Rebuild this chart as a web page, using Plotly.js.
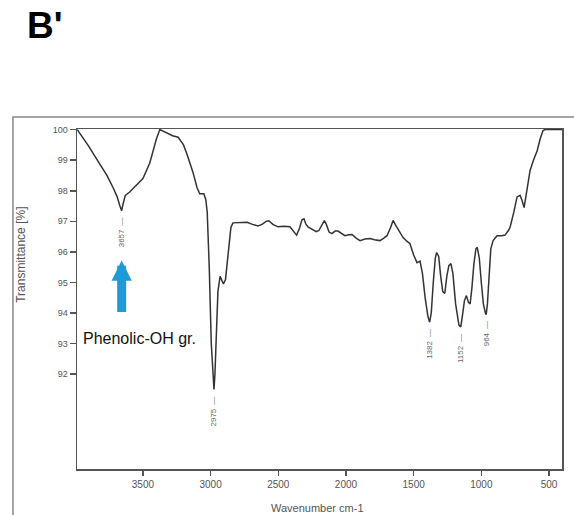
<!DOCTYPE html>
<html>
<head>
<meta charset="utf-8">
<script src="https://cdn.plot.ly/plotly-3.0.1.min.js"></script>
<style>html,body{margin:0;padding:0;background:#fff;}#chart{width:574px;height:515px;}</style>
</head>
<body>
<div id="chart"></div>
<script>
// Wavenumber (cm-1) and transmittance (%)
const wavenumber = [3985,3900,3830,3766,3720,3690,3670,3657,3645,3630,3600,3574,3540,3500,3450,3400,3375,3350,3320,3280,3240,3200,3175,3130,3100,3080,3050,3035,3025,3010,2995,2983,2975,2968,2958,2946,2930,2920,2905,2890,2870,2850,2835,2800,2760,2731,2690,2650,2620,2590,2570,2540,2502,2460,2414,2390,2365,2345,2325,2310,2295,2280,2250,2220,2200,2180,2160,2145,2125,2104,2080,2059,2035,2008,1980,1955,1925,1896,1860,1822,1790,1749,1720,1697,1670,1652,1630,1600,1578,1550,1527,1500,1475,1453,1435,1415,1395,1382,1370,1355,1340,1330,1315,1300,1285,1270,1255,1240,1225,1210,1190,1165,1152,1140,1125,1110,1095,1083,1070,1055,1040,1030,1015,1000,985,970,964,955,945,930,913,884,850,825,800,788,760,736,714,700,684,670,655,640,615,588,565,544,530,404];
const transmittance = [100.0,99.45,98.95,98.5,98.1,97.8,97.5,97.35,97.6,97.85,97.95,98.07,98.2,98.4,98.9,99.7,100.0,99.95,99.9,99.8,99.75,99.5,99.2,98.6,98.1,97.9,97.9,97.7,97.3,95.5,93.0,91.8,91.5,92.0,93.5,94.7,95.2,95.1,94.95,95.1,96.0,96.8,96.95,96.95,96.95,96.97,96.9,96.85,96.9,97.0,97.02,96.9,96.82,96.84,96.82,96.7,96.55,96.75,97.05,97.08,96.9,96.82,96.75,96.66,96.7,96.85,97.02,96.9,96.65,96.6,96.68,96.68,96.6,96.53,96.56,96.57,96.45,96.37,96.42,96.44,96.4,96.37,96.45,96.53,96.8,97.03,96.85,96.62,96.47,96.35,96.27,95.9,95.65,95.7,95.3,94.5,93.9,93.7,94.0,95.0,95.8,95.98,95.85,95.2,94.7,94.64,95.2,95.55,95.62,95.3,94.3,93.6,93.55,93.9,94.4,94.57,94.35,94.3,94.8,95.6,96.1,96.15,95.8,95.0,94.3,94.0,93.95,94.3,95.2,96.1,96.37,96.53,96.53,96.55,96.7,96.8,97.3,97.8,97.85,97.7,97.45,97.8,98.3,98.66,99.0,99.3,99.7,99.97,100.0,100.0];

// Labelled band positions
const peakWavenumbers = [3657, 2975, 1382, 1152, 964];
const peakTransmittance = [97.35, 91.5, 93.7, 93.55, 93.95];

const xTicks = [3500, 3000, 2500, 2000, 1500, 1000, 500];
const yTicks = [92, 93, 94, 95, 96, 97, 98, 99, 100];

const FONT = 'Arial, "Liberation Sans", sans-serif';

const trace = {
  x: wavenumber, y: transmittance, type: 'scatter', mode: 'lines',
  line: {color: '#333', width: 1.5}, hoverinfo: 'skip'
};

const annotations = peakWavenumbers.map((w, i) => ({
  x: w, y: peakTransmittance[i], xref: 'x', yref: 'y',
  text: String(w) + '\u2002\u2014', showarrow: false, textangle: -90,
  xanchor: 'center', yanchor: 'top', yshift: -5,
  font: {family: FONT, size: 8, color: '#666'}
}));

// Blue arrow pointing at the phenolic band
annotations.push({
  x: 3657, y: 95.72, xref: 'x', yref: 'y', text: '',
  showarrow: true, arrowhead: 2, arrowsize: 0.45, arrowwidth: 9,
  arrowcolor: '#1e9ad8', ax: 0, ay: 53, standoff: 0
});
annotations.push({
  x: 0.008, y: 0.385, xref: 'paper', yref: 'paper', text: 'Phenolic-OH gr.',
  showarrow: false, xanchor: 'left', yanchor: 'middle',
  font: {family: FONT, size: 16, color: '#111'}
});
annotations.push({
  x: -0.1155, y: 0.63, xref: 'paper', yref: 'paper', text: 'Transmittance [%]',
  showarrow: false, textangle: -90, xanchor: 'center', yanchor: 'middle',
  font: {family: FONT, size: 12, color: '#555'}
});
annotations.push({
  x: 0.495, y: -0.115, xref: 'paper', yref: 'paper', text: 'Wavenumber cm-1',
  showarrow: false, xanchor: 'center', yanchor: 'middle',
  font: {family: FONT, size: 11, color: '#555'}
});
annotations.push({
  x: -0.107, y: 1.37, xref: 'paper', yref: 'paper', text: "<b>B'</b>",
  showarrow: false, xanchor: 'left', yanchor: 'top',
  font: {family: FONT, size: 37, color: '#000'}
});

const layout = {
  width: 574, height: 515,
  margin: {l: 77, r: 12, t: 129, b: 46, pad: 0},
  paper_bgcolor: '#fff', plot_bgcolor: '#fff',
  showlegend: false,
  xaxis: {
    range: [3987, 404], tickvals: xTicks, ticktext: xTicks.map(String),
    ticks: 'outside', ticklen: 5, tickwidth: 1.5, tickcolor: '#555',
    showline: true, mirror: true, linecolor: '#555', linewidth: 1.5,
    showgrid: false, zeroline: false,
    tickfont: {family: FONT, size: 10, color: '#555'}
  },
  yaxis: {
    range: [88.9, 100.02], tickvals: yTicks, ticktext: yTicks.map(String),
    ticks: 'outside', ticklen: 6, tickwidth: 1.5, tickcolor: '#555',
    showline: true, mirror: true, linecolor: '#555', linewidth: 1.5,
    showgrid: false, zeroline: false,
    tickfont: {family: FONT, size: 9, color: '#555'}
  },
  shapes: [{
    type: 'rect', xref: 'paper', yref: 'paper',
    x0: -0.132, x1: 1.04, y0: -0.16, y1: 1.035,
    line: {color: '#888', width: 1.5}, fillcolor: 'rgba(0,0,0,0)'
  }],
  annotations: annotations
};

Plotly.newPlot('chart', [trace], layout, {displayModeBar: false, staticPlot: true});
</script>
</body>
</html>
